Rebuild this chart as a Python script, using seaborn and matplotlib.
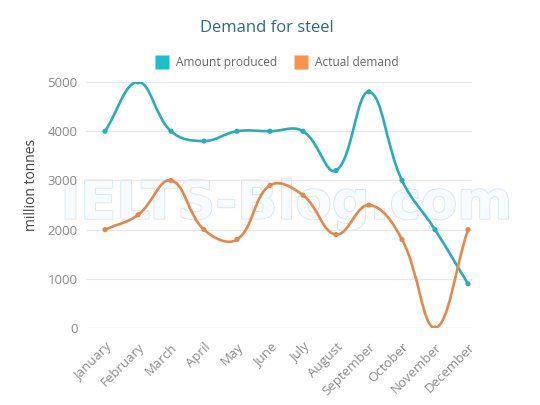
import numpy as np
import pandas as pd
import matplotlib
matplotlib.use('Agg')
import matplotlib.pyplot as plt
import seaborn as sns
from matplotlib.path import Path
from matplotlib.patches import PathPatch
from matplotlib.lines import Line2D
import matplotlib.patheffects as pe

months = ['January', 'February', 'March', 'April', 'May', 'June', 'July',
          'August', 'September', 'October', 'November', 'December']
produced = [4000, 5000, 4000, 3800, 4000, 4000, 4000, 3200, 4800, 3000, 2000, 900]
demand = [2000, 2300, 3000, 2000, 1800, 2900, 2700, 1900, 2500, 1800, 0, 2000]
series_names = ['Amount produced', 'Actual demand']
yticks = [0, 1000, 2000, 3000, 4000, 5000]

line_colors = ['#27adb9', '#e3884a']
legend_colors = ['#1cbfcb', '#f6934d']


def spline_path(ax, xs, ys, tension=0.4):
    # chart.js style cubic spline, control points worked out in pixel space
    pts = ax.transData.transform(np.column_stack([xs, ys]))
    (x0, y0), (x1, y1) = ax.transData.transform([(ax.get_xlim()[0], ax.get_ylim()[0]),
                                                  (ax.get_xlim()[1], ax.get_ylim()[1])])
    n = len(pts)
    prev_c = np.zeros_like(pts)
    next_c = np.zeros_like(pts)
    for i in range(n):
        cur = pts[i]
        prv = pts[i - 1] if i > 0 else cur
        nxt = pts[i + 1] if i < n - 1 else cur
        d01 = np.hypot(*(cur - prv))
        d12 = np.hypot(*(nxt - cur))
        tot = d01 + d12
        s01 = d01 / tot if tot else 0
        s12 = d12 / tot if tot else 0
        prev_c[i] = cur - tension * s01 * (nxt - prv)
        next_c[i] = cur + tension * s12 * (nxt - prv)
    for c in (prev_c, next_c):
        c[:, 0] = np.clip(c[:, 0], x0, x1)
        c[:, 1] = np.clip(c[:, 1], y0, y1)
    verts = [pts[0]]
    codes = [Path.MOVETO]
    for i in range(1, n):
        verts += [next_c[i - 1], prev_c[i], pts[i]]
        codes += [Path.CURVE4] * 3
    verts = ax.transData.inverted().transform(np.array(verts))
    return Path(verts, codes)


sns.set_theme(style='white')
plt.rcParams['font.family'] = ['Open Sans', 'DejaVu Sans']

df = pd.DataFrame({'month': months, 'x': np.arange(len(months)),
                   series_names[0]: produced, series_names[1]: demand})

fig = plt.figure(figsize=(5.4, 4.05), dpi=100)
ax = fig.add_axes([0.159, 0.19, 0.715, 0.6075])
ax.set_xlim(-0.58, 11.12)
ax.set_ylim(0, 5000)

for y in yticks:
    ax.axhline(y, color='#e8e8e8' if y else '#cfcfcf', lw=0.9, zorder=0.3)

# faint watermark, kept under grid, tick labels and lines
ax.text(0.53, 0.497, 'IELTS-Blog.com', transform=fig.transFigure,
        ha='center', va='center', fontsize=38, fontweight='bold',
        family='DejaVu Sans', color='#f8fbfd', zorder=0.2, clip_on=False,
        path_effects=[pe.withStroke(linewidth=1.3, foreground='#d6e9f4')])

for name, col in zip(series_names, line_colors):
    p = spline_path(ax, df['x'].values.astype(float), df[name].values.astype(float))
    ax.add_patch(PathPatch(p, facecolor='none', edgecolor=col, lw=1.9,
                           zorder=3, capstyle='round', joinstyle='round'))
    sns.scatterplot(data=df, x='x', y=name, color=col, s=14, edgecolor='none',
                    ax=ax, zorder=4, legend=False)

ax.set_xlim(-0.58, 11.12)
ax.set_ylim(0, 5000)
ax.set_xticks(df['x'])
ax.set_xticklabels(months, rotation=45, ha='right', rotation_mode='anchor',
                   fontsize=9.5, color='#8c8c8c')
ax.set_yticks(yticks)
ax.set_yticklabels([str(v) for v in yticks], fontsize=9.5, color='#8a8a8a')
ax.tick_params(axis='y', length=0, pad=6)
ax.tick_params(axis='x', length=0, pad=9)
ax.set_xlabel('')
ax.set_ylabel('million tonnes', fontsize=10, color='#444444')
ax.yaxis.set_label_coords(-0.122, 0.58)
ax.set_axisbelow(True)
for s in ax.spines.values():
    s.set_visible(False)
ax.patch.set_alpha(0)

fig.text(0.495, 0.932, 'Demand for steel', ha='center', va='center',
         fontsize=12, color='#2b6c82')

handles = [Line2D([0], [0], marker='s', linestyle='none', markersize=10.5,
                  markerfacecolor=c, markeredgecolor='none') for c in legend_colors]
fig.legend(handles, series_names, loc='center', bbox_to_anchor=(0.508, 0.845),
           ncol=2, frameon=False, fontsize=8.6, handletextpad=0.2,
           columnspacing=0.95, labelcolor='#666666')

fig.savefig('out.png', dpi=100)
